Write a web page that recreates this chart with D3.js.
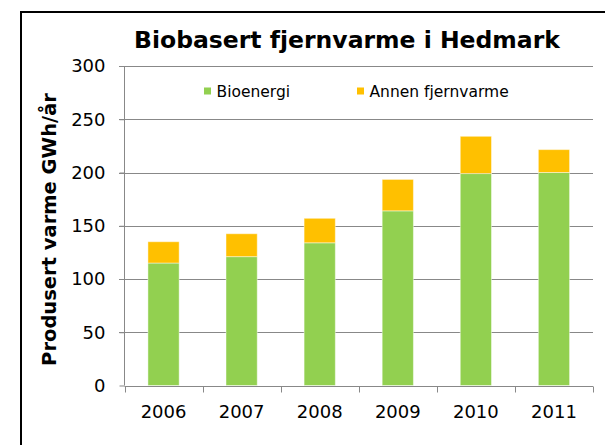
<!DOCTYPE html>
<html>
<head>
<meta charset="utf-8">
<script src="https://cdn.jsdelivr.net/npm/d3@7"></script>
<style>
  body { margin: 0; background: #fff; }
  svg { display: block; font-family: "DejaVu Sans", Verdana, sans-serif; }
</style>
</head>
<body>
<div id="chart"></div>
<script>
var years = ["2006", "2007", "2008", "2009", "2010", "2011"];
var bioenergi = [115, 121, 134, 164, 199, 200];
var annen = [20, 21.5, 23, 29.5, 35, 21.5];
var yTicks = [0, 50, 100, 150, 200, 250, 300];
var seriesNames = ["Bioenergi", "Annen fjernvarme"];
var seriesColors = ["#92D050", "#FFC000"];

var W = 605, H = 445;
var svg = d3.select("#chart").append("svg").attr("width", W).attr("height", H);

// chart frame (runs off the right and bottom edge)
svg.append("rect")
    .attr("x", 21).attr("y", 12)
    .attr("width", 700).attr("height", 500)
    .attr("fill", "#fff").attr("stroke", "#000").attr("stroke-width", 2);

var x = d3.scaleBand()
    .domain(years)
    .range([124.5, 593])
    .paddingInner(0.6)
    .paddingOuter(0.3);

var y = d3.scaleLinear()
    .domain([0, 300])
    .range([385.5, 66]);

// gridlines
svg.append("g")
    .selectAll("line")
    .data(yTicks.filter(function(d) { return d > 0; }))
    .enter().append("line")
    .attr("x1", 119).attr("x2", 593)
    .attr("y1", function(d) { return Math.round(y(d)) + 0.5; })
    .attr("y2", function(d) { return Math.round(y(d)) + 0.5; })
    .attr("stroke", "#888").attr("stroke-width", 1);

// stacked bars
var rows = years.map(function(yr, i) {
    return { year: yr, Bioenergi: bioenergi[i], "Annen fjernvarme": annen[i] };
});
var stacked = d3.stack().keys(seriesNames)(rows);

svg.append("g")
    .selectAll("g")
    .data(stacked)
    .enter().append("g")
    .attr("fill", function(d, i) { return seriesColors[i]; })
    .selectAll("rect")
    .data(function(d) { return d; })
    .enter().append("rect")
    .attr("x", function(d) { return x(d.data.year); })
    .attr("y", function(d) { return y(d[1]); })
    .attr("width", x.bandwidth())
    .attr("height", function(d) { return y(d[0]) - y(d[1]); })
    .attr("stroke", "rgba(255,255,255,0.45)")
    .attr("stroke-width", 1);

// y axis
var yAxis = svg.append("g")
    .attr("transform", "translate(124.5,0)")
    .call(d3.axisLeft(y).tickValues(yTicks).tickSize(5).tickPadding(14));
yAxis.select(".domain").attr("stroke", "#888").attr("d", "M0," + y(300) + "V" + y(0));
yAxis.selectAll(".tick line").attr("stroke", "#888");
yAxis.selectAll(".tick text")
    .attr("font-size", "18px")
    .attr("font-family", "DejaVu Sans, Verdana, sans-serif")
    .attr("fill", "#000");

// x axis with ticks at category boundaries
var xAxis = svg.append("g")
    .attr("transform", "translate(0," + (Math.round(y(0)) + 0.5) + ")");
xAxis.append("line")
    .attr("x1", 124.5).attr("x2", 593)
    .attr("stroke", "#888");
var bounds = years.map(function(d) { return x(d) - x.step() * x.paddingInner() / 2; });
bounds.push(593);
xAxis.selectAll(".bt")
    .data(bounds)
    .enter().append("line")
    .attr("x1", function(d) { return Math.round(d) + 0.5; })
    .attr("x2", function(d) { return Math.round(d) + 0.5; })
    .attr("y1", 0).attr("y2", 6)
    .attr("stroke", "#888");
xAxis.selectAll("text")
    .data(years)
    .enter().append("text")
    .attr("x", function(d) { return x(d) + x.bandwidth() / 2; })
    .attr("y", 31)
    .attr("text-anchor", "middle")
    .attr("font-size", "18px")
    .text(function(d) { return d; });

// title
svg.append("text")
    .attr("x", 347).attr("y", 48)
    .attr("text-anchor", "middle")
    .attr("font-size", "23.5px")
    .attr("font-weight", "bold")
    .text("Biobasert fjernvarme i Hedmark");

// y axis title
svg.append("text")
    .attr("transform", "translate(56,229.5) rotate(-90)")
    .attr("text-anchor", "middle")
    .attr("font-size", "19.5px")
    .attr("font-weight", "bold")
    .text("Produsert varme GWh/år");

// legend
var legendX = [204, 357];
var legend = svg.append("g");
seriesNames.forEach(function(name, i) {
    var g = legend.append("g").attr("transform", "translate(" + legendX[i] + ",87.5)");
    g.append("rect").attr("width", 7).attr("height", 7).attr("fill", seriesColors[i]);
    g.append("text").attr("x", 12.5).attr("y", 9.5).attr("font-size", "15.5px").text(name);
});
</script>
</body>
</html>
